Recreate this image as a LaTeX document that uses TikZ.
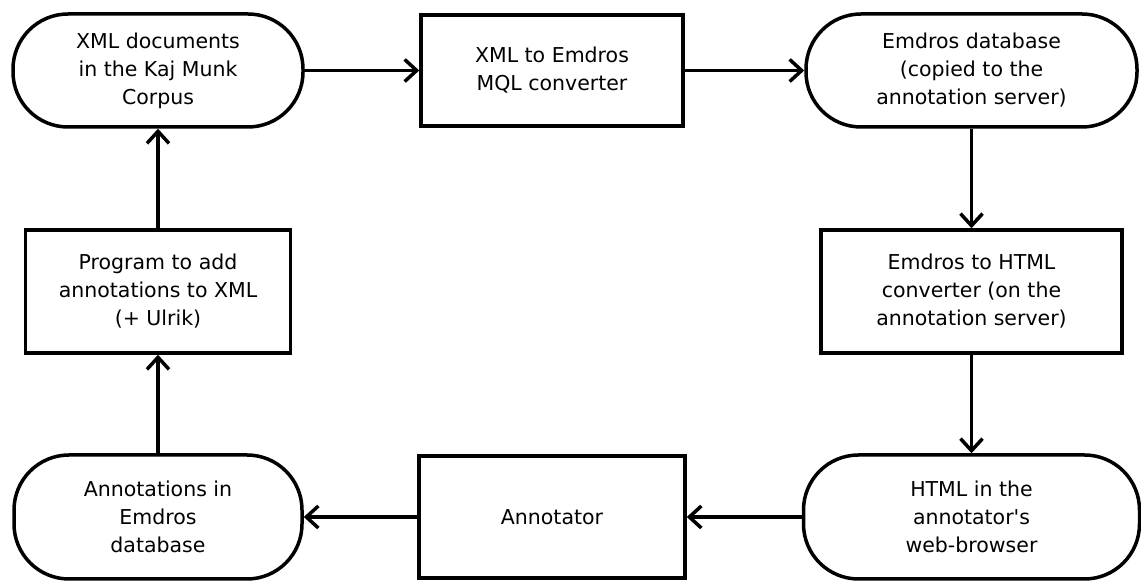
\documentclass[tikz,border=0pt]{standalone}
\usepackage{fontspec}
\setmainfont{DejaVu Sans}
\usetikzlibrary{arrows.meta}

\begin{document}
\begin{tikzpicture}[x=1pt, y=1pt, line width=3.5pt,
    >={Straight Barb[length=12pt,width=22pt]},
    box/.style={draw, rectangle, align=center, font=\fontsize{20.5}{28}\selectfont},
    store/.style={box, rounded corners=55pt}]

    \useasboundingbox (0,0) rectangle (1141,583);

    % top row
    \node[store, minimum width=290, minimum height=113] (xmldocs) at (158,512.5)
        {XML documents\\in the Kaj Munk\\Corpus};
    \node[box, minimum width=262, minimum height=111] (mqlconv) at (552,512.5)
        {XML to Emdros\\MQL converter};
    \node[store, minimum width=331, minimum height=113] (emdrosdb) at (971.5,512.5)
        {Emdros database\\(copied to the\\annotation server)};

    % middle row
    \node[box, minimum width=265, minimum height=123] (addprog) at (158,291.5)
        {Program to add\\annotations to XML\\(+ Ulrik)};
    \node[box, minimum width=301, minimum height=123] (htmlconv) at (971.5,291.5)
        {Emdros to HTML\\converter (on the\\annotation server)};

    % bottom row
    \node[store, minimum width=288, minimum height=124] (anndb) at (158,66)
        {Annotations in\\Emdros\\database};
    \node[box, minimum width=266, minimum height=122] (annotator) at (552,66)
        {Annotator};
    \node[store, minimum width=336, minimum height=124] (browser) at (971.5,66)
        {HTML in the\\annotator\textquotesingle s\\web-browser};

    % flow
    \draw[->] (xmldocs) -- (mqlconv);
    \draw[->] (mqlconv) -- (emdrosdb);
    \draw[->] (emdrosdb) -- (htmlconv);
    \draw[->] (htmlconv) -- (browser);
    \draw[->] (browser) -- (annotator);
    \draw[->] (annotator) -- (anndb);
    \draw[->] (anndb) -- (addprog);
    \draw[->] (addprog) -- (xmldocs);

\end{tikzpicture}
\end{document}
